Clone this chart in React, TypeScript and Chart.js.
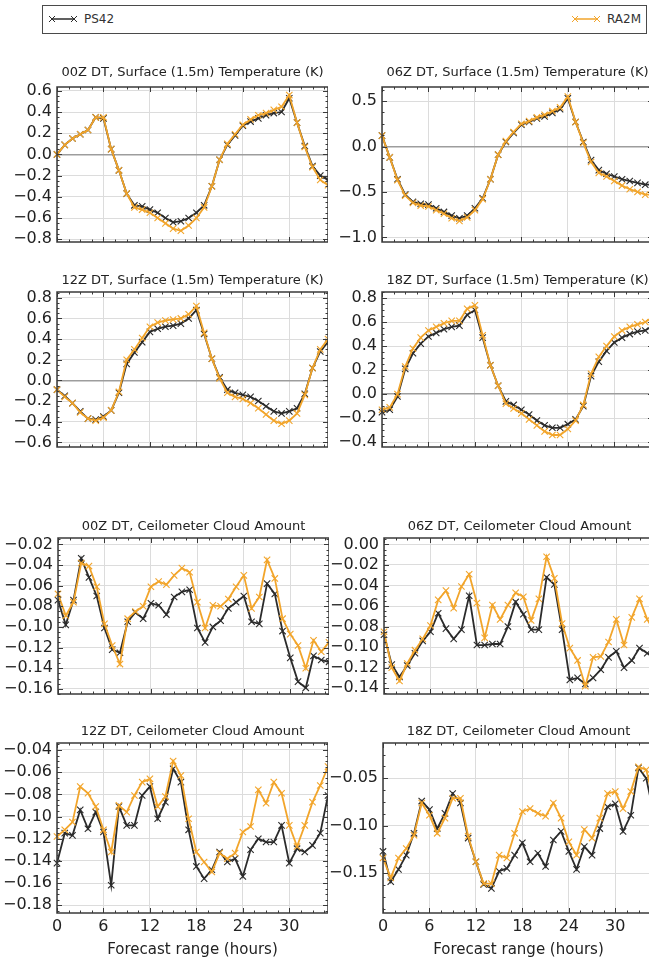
import React, { useEffect, useRef } from 'react';
import { Chart, registerables } from 'chart.js';

Chart.register(...registerables);

// ---------------------------------------------------------------------------
// Data: forecast hour vs. mean difference (PS42 and RA2M configurations)
// ---------------------------------------------------------------------------
const HOURS = [0, 1, 2, 3, 4, 5, 6, 7, 8, 9, 10, 11, 12, 13, 14, 15, 16, 17, 18, 19, 20, 21, 22, 23, 24, 25, 26, 27, 28, 29, 30, 31, 32, 33, 34, 35];
const X_TICKS = [0, 6, 12, 18, 24, 30];

// Surface (1.5m) temperature (K)
const PS42_T00 = [0.0, 0.09, 0.15, 0.19, 0.23, 0.35, 0.34, 0.05, -0.15, -0.37, -0.48, -0.49, -0.52, -0.55, -0.6, -0.64, -0.63, -0.6, -0.55, -0.48, -0.3, -0.05, 0.09, 0.18, 0.27, 0.31, 0.34, 0.37, 0.39, 0.4, 0.53, 0.3, 0.08, -0.11, -0.2, -0.24];
const RA2M_T00 = [0.0, 0.09, 0.15, 0.19, 0.23, 0.35, 0.35, 0.05, -0.15, -0.37, -0.5, -0.52, -0.55, -0.6, -0.65, -0.7, -0.72, -0.67, -0.6, -0.5, -0.3, -0.05, 0.1, 0.19, 0.28, 0.33, 0.37, 0.39, 0.42, 0.45, 0.56, 0.3, 0.07, -0.12, -0.24, -0.29];

const PS42_T06 = [0.12, -0.12, -0.36, -0.53, -0.61, -0.63, -0.64, -0.68, -0.72, -0.76, -0.79, -0.76, -0.68, -0.57, -0.36, -0.09, 0.05, 0.15, 0.24, 0.27, 0.31, 0.33, 0.37, 0.41, 0.53, 0.27, 0.05, -0.15, -0.26, -0.3, -0.33, -0.36, -0.38, -0.4, -0.42, -0.42];
const RA2M_T06 = [0.12, -0.12, -0.37, -0.54, -0.62, -0.65, -0.66, -0.7, -0.74, -0.79, -0.82, -0.78, -0.7, -0.58, -0.36, -0.09, 0.06, 0.16, 0.25, 0.28, 0.32, 0.35, 0.39, 0.43, 0.55, 0.27, 0.04, -0.17, -0.29, -0.33, -0.38, -0.43, -0.47, -0.5, -0.53, -0.53];

const PS42_T12 = [-0.09, -0.15, -0.22, -0.3, -0.37, -0.38, -0.35, -0.29, -0.12, 0.16, 0.27, 0.37, 0.47, 0.5, 0.52, 0.53, 0.55, 0.6, 0.68, 0.45, 0.21, 0.03, -0.09, -0.12, -0.14, -0.16, -0.2, -0.25, -0.3, -0.32, -0.3, -0.27, -0.13, 0.12, 0.28, 0.37];
const RA2M_T12 = [-0.09, -0.16, -0.22, -0.31, -0.37, -0.39, -0.36, -0.29, -0.11, 0.2, 0.3, 0.41, 0.52, 0.56, 0.58, 0.59, 0.6, 0.64, 0.72, 0.46, 0.21, 0.02, -0.12, -0.16, -0.18, -0.22, -0.27, -0.33, -0.39, -0.42, -0.39, -0.32, -0.14, 0.12, 0.3, 0.4];

const PS42_T18 = [-0.15, -0.13, -0.02, 0.21, 0.34, 0.42, 0.48, 0.51, 0.54, 0.56, 0.57, 0.66, 0.7, 0.47, 0.24, 0.07, -0.06, -0.09, -0.13, -0.17, -0.22, -0.26, -0.28, -0.28, -0.25, -0.21, -0.1, 0.15, 0.27, 0.36, 0.43, 0.47, 0.5, 0.52, 0.53, 0.57];
const RA2M_T18 = [-0.13, -0.11, 0.0, 0.23, 0.38, 0.47, 0.53, 0.56, 0.59, 0.61, 0.61, 0.71, 0.74, 0.49, 0.24, 0.07, -0.08, -0.12, -0.16, -0.21, -0.26, -0.31, -0.34, -0.34, -0.29, -0.22, -0.09, 0.17, 0.31, 0.4, 0.48, 0.53, 0.56, 0.58, 0.6, 0.64];

// Ceilometer cloud amount
const PS42_C00 = [-0.074, -0.098, -0.074, -0.0335, -0.052, -0.07, -0.101, -0.122, -0.125, -0.095, -0.086, -0.092, -0.077, -0.079, -0.088, -0.071, -0.066, -0.064, -0.101, -0.115, -0.1, -0.094, -0.082, -0.076, -0.07, -0.095, -0.097, -0.058, -0.068, -0.104, -0.13, -0.153, -0.159, -0.128, -0.132, -0.134];
const RA2M_C00 = [-0.068, -0.089, -0.076, -0.038, -0.041, -0.061, -0.097, -0.118, -0.136, -0.092, -0.085, -0.08, -0.061, -0.056, -0.059, -0.05, -0.043, -0.047, -0.076, -0.101, -0.079, -0.08, -0.073, -0.061, -0.05, -0.082, -0.071, -0.035, -0.053, -0.092, -0.107, -0.118, -0.14, -0.113, -0.124, -0.115];

const PS42_C06 = [-0.088, -0.117, -0.129, -0.118, -0.106, -0.094, -0.085, -0.067, -0.082, -0.092, -0.083, -0.05, -0.098, -0.098, -0.097, -0.097, -0.08, -0.056, -0.068, -0.083, -0.083, -0.032, -0.039, -0.083, -0.132, -0.13, -0.136, -0.13, -0.122, -0.11, -0.104, -0.12, -0.113, -0.101, -0.106, -0.11];
const RA2M_C06 = [-0.085, -0.12, -0.133, -0.116, -0.103, -0.092, -0.079, -0.054, -0.045, -0.062, -0.041, -0.029, -0.057, -0.091, -0.059, -0.073, -0.059, -0.047, -0.051, -0.074, -0.053, -0.012, -0.033, -0.077, -0.101, -0.113, -0.138, -0.11, -0.109, -0.095, -0.073, -0.098, -0.071, -0.053, -0.073, -0.086];

const PS42_C12 = [-0.142, -0.115, -0.117, -0.094, -0.111, -0.096, -0.114, -0.162, -0.091, -0.108, -0.108, -0.081, -0.073, -0.102, -0.087, -0.057, -0.069, -0.112, -0.145, -0.156, -0.148, -0.132, -0.141, -0.138, -0.154, -0.13, -0.12, -0.123, -0.123, -0.108, -0.142, -0.129, -0.132, -0.126, -0.115, -0.081];
const RA2M_C12 = [-0.118, -0.112, -0.105, -0.073, -0.079, -0.091, -0.112, -0.132, -0.09, -0.096, -0.081, -0.069, -0.066, -0.091, -0.082, -0.05, -0.063, -0.102, -0.132, -0.141, -0.15, -0.133, -0.138, -0.133, -0.114, -0.109, -0.076, -0.088, -0.069, -0.079, -0.108, -0.127, -0.108, -0.087, -0.072, -0.055];

const PS42_C18 = [-0.127, -0.159, -0.146, -0.131, -0.108, -0.074, -0.083, -0.103, -0.087, -0.066, -0.076, -0.113, -0.138, -0.162, -0.166, -0.148, -0.145, -0.131, -0.118, -0.138, -0.129, -0.143, -0.115, -0.106, -0.127, -0.146, -0.122, -0.131, -0.103, -0.08, -0.077, -0.106, -0.089, -0.039, -0.05, -0.089];
const RA2M_C18 = [-0.134, -0.155, -0.134, -0.124, -0.11, -0.076, -0.089, -0.108, -0.092, -0.071, -0.071, -0.111, -0.138, -0.161, -0.161, -0.131, -0.134, -0.108, -0.085, -0.082, -0.087, -0.09, -0.076, -0.092, -0.117, -0.131, -0.104, -0.113, -0.092, -0.066, -0.064, -0.082, -0.064, -0.038, -0.041, -0.075];

// Y tick values for each panel
const YT_T00 = [-0.8, -0.6, -0.4, -0.2, 0, 0.2, 0.4, 0.6];
const YT_T06 = [-1.0, -0.5, 0, 0.5];
const YT_T12 = [-0.6, -0.4, -0.2, 0, 0.2, 0.4, 0.6, 0.8];
const YT_T18 = [-0.4, -0.2, 0, 0.2, 0.4, 0.6, 0.8];
const YT_C00 = [-0.16, -0.14, -0.12, -0.1, -0.08, -0.06, -0.04, -0.02];
const YT_C06 = [-0.14, -0.12, -0.1, -0.08, -0.06, -0.04, -0.02, 0];
const YT_C12 = [-0.18, -0.16, -0.14, -0.12, -0.1, -0.08, -0.06, -0.04];
const YT_C18 = [-0.15, -0.1, -0.05];

// ---------------------------------------------------------------------------
// Styling
// ---------------------------------------------------------------------------
const FONT = "'DejaVu Sans', 'Liberation Sans', sans-serif";
const INK = '#222222';
const GRID = '#dcdcdc';
const ZERO_LINE = '#9d9d9d';
const FRAME = '#3a3a3a';
const PS42_COLOR = '#2b2b2b';
const RA2M_COLOR = '#f2a52b';

const AXIS_W = 60; // room for y tick labels left of the plot
const PLOT_W = 271;
const TITLE_H = 30;
const X_AXIS_H = 50; // tick labels + axis title on the bottom row

type Panel = {
  title: string;
  left: number;
  top: number;
  height: number;
  gap: number;
  yMin: number;
  yMax: number;
  yTicks: number[];
  dec: number;
  zero: boolean;
  ps: number[];
  ra: number[];
  xLabels: boolean;
};

const TEMP = 'Surface (1.5m) Temperature (K)';
const CLOUD = 'Ceilometer Cloud Amount';

const PANELS: Panel[] = [
  { title: `00Z DT, ${TEMP}`, left: 57, top: 87, height: 168, gap: 14, yMin: -0.826, yMax: 0.636, yTicks: YT_T00, dec: 1, zero: true, ps: PS42_T00, ra: RA2M_T00, xLabels: false },
  { title: `06Z DT, ${TEMP}`, left: 382, top: 87, height: 168, gap: 14, yMin: -1.051, yMax: 0.655, yTicks: YT_T06, dec: 1, zero: true, ps: PS42_T06, ra: RA2M_T06, xLabels: false },
  { title: `12Z DT, ${TEMP}`, left: 57, top: 292, height: 168, gap: 11.5, yMin: -0.645, yMax: 0.856, yTicks: YT_T12, dec: 1, zero: true, ps: PS42_T12, ra: RA2M_T12, xLabels: false },
  { title: `18Z DT, ${TEMP}`, left: 382, top: 292, height: 168, gap: 11.5, yMin: -0.44, yMax: 0.85, yTicks: YT_T18, dec: 1, zero: true, ps: PS42_T18, ra: RA2M_T18, xLabels: false },
  { title: `00Z DT, ${CLOUD}`, left: 58, top: 538, height: 169, gap: 11.5, yMin: -0.165, yMax: -0.0138, yTicks: YT_C00, dec: 2, zero: false, ps: PS42_C00, ra: RA2M_C00, xLabels: false },
  { title: `06Z DT, ${CLOUD}`, left: 384, top: 538, height: 169, gap: 11.5, yMin: -0.1457, yMax: 0.0063, yTicks: YT_C06, dec: 2, zero: false, ps: PS42_C06, ra: RA2M_C06, xLabels: false },
  { title: `12Z DT, ${CLOUD}`, left: 57, top: 743, height: 170, gap: 11.5, yMin: -0.187, yMax: -0.0337, yTicks: YT_C12, dec: 2, zero: false, ps: PS42_C12, ra: RA2M_C12, xLabels: true },
  { title: `18Z DT, ${CLOUD}`, left: 383, top: 743, height: 170, gap: 11.5, yMin: -0.192, yMax: -0.0128, yTicks: YT_C18, dec: 2, zero: false, ps: PS42_C18, ra: RA2M_C18, xLabels: true },
];

const fmt = (v: number, dec: number) => {
  const s = Number(v).toFixed(dec);
  return s.startsWith('-') ? '\u2212' + s.slice(1) : s;
};

// Axes frame with inward major/minor ticks on all four sides
const framePlugin = {
  id: 'frame',
  afterDatasetsDraw(chart: any, _args: any, opts: any) {
    const { ctx, chartArea: a, scales } = chart;
    const xs = scales.x;
    const ys = scales.y;
    const seg = (x1: number, y1: number, x2: number, y2: number) => {
      ctx.beginPath();
      ctx.moveTo(x1, y1);
      ctx.lineTo(x2, y2);
      ctx.stroke();
    };
    ctx.save();
    ctx.strokeStyle = FRAME;
    ctx.lineWidth = 1;

    const xStep = opts.xStep / 4;
    for (let i = 0; ; i++) {
      const v = xs.min + i * xStep;
      if (v > xs.max + 1e-9) break;
      const len = i % 4 === 0 ? 5 : 2.5;
      const px = Math.round(xs.getPixelForValue(v)) + 0.5;
      seg(px, a.top, px, a.top + len);
      seg(px, a.bottom, px, a.bottom - len);
    }

    const yt: number[] = opts.yTicks;
    const yStep = (yt[1] - yt[0]) / 4;
    const drawY = (v: number, len: number) => {
      const py = Math.round(ys.getPixelForValue(v)) + 0.5;
      seg(a.left, py, a.left + len, py);
      seg(a.right, py, a.right - len, py);
    };
    for (let i = 1; ; i++) {
      const v = yt[0] - i * yStep;
      if (v < ys.min) break;
      drawY(v, i % 4 === 0 ? 5 : 2.5);
    }
    for (let i = 0; ; i++) {
      const v = yt[0] + i * yStep;
      if (v > ys.max + 1e-9) break;
      drawY(v, i % 4 === 0 ? 5 : 2.5);
    }

    ctx.lineWidth = 1.5;
    ctx.strokeRect(a.left, a.top, a.right - a.left, a.bottom - a.top);
    ctx.restore();
  },
};

function series(label: string, values: number[], color: string, order: number) {
  return {
    label,
    data: HOURS.map((h, i) => ({ x: h, y: values[i] })),
    borderColor: color,
    backgroundColor: color,
    borderWidth: 1.8,
    tension: 0,
    pointStyle: 'crossRot',
    pointRadius: 4.5,
    pointBorderWidth: 1.1,
    pointBorderColor: color,
    pointBackgroundColor: color,
    clip: 6,
    order,
  };
}

function PanelChart({ p }: { p: Panel }) {
  const ref = useRef<HTMLCanvasElement>(null);
  const xh = p.xLabels ? X_AXIS_H : 0;
  const width = AXIS_W + PLOT_W;
  const height = TITLE_H + p.height + xh;

  useEffect(() => {
    if (!ref.current) return;
    const isZero = (c: any) => p.zero && c.tick && Math.abs(c.tick.value) < 1e-9;
    const chart = new Chart(ref.current, {
      type: 'line',
      data: {
        datasets: [
          series('RA2M', p.ra, RA2M_COLOR, 0),
          series('PS42', p.ps, PS42_COLOR, 1),
        ],
      },
      options: {
        responsive: false,
        animation: false,
        events: [],
        layout: { padding: 0, autoPadding: false },
        plugins: {
          legend: { display: false },
          tooltip: { enabled: false },
          title: {
            display: true,
            text: p.title,
            fullSize: false,
            color: INK,
            font: { family: FONT, size: 13, weight: 'normal', lineHeight: '14px' },
            padding: { top: 23 - p.gap, bottom: p.gap - 7 },
          },
          frame: { xStep: 6, yTicks: p.yTicks },
        },
        scales: {
          x: {
            type: 'linear',
            min: 0,
            max: 35,
            afterBuildTicks: (s: any) => {
              s.ticks = X_TICKS.map((v) => ({ value: v }));
            },
            afterFit: (s: any) => {
              s.height = xh;
            },
            grid: { color: GRID, lineWidth: 1, drawTicks: false },
            border: { display: false },
            ticks: {
              display: p.xLabels,
              autoSkip: false,
              maxRotation: 0,
              padding: 4,
              color: INK,
              font: { family: FONT, size: 16 },
              callback: (v: any) => String(v),
            },
            title: {
              display: p.xLabels,
              text: 'Forecast range (hours)',
              color: INK,
              font: { family: FONT, size: 15 },
              padding: { top: 0, bottom: 4 },
            },
          },
          y: {
            type: 'linear',
            min: p.yMin,
            max: p.yMax,
            afterBuildTicks: (s: any) => {
              s.ticks = p.yTicks.map((v) => ({ value: v }));
            },
            afterFit: (s: any) => {
              s.width = AXIS_W;
            },
            grid: {
              color: (c: any) => (isZero(c) ? ZERO_LINE : GRID),
              lineWidth: (c: any) => (isZero(c) ? 1.5 : 1),
              drawTicks: false,
            },
            border: { display: false },
            ticks: {
              autoSkip: false,
              padding: 5,
              color: INK,
              font: { family: FONT, size: 16, lineHeight: 1 },
              callback: (v: any) => fmt(v, p.dec),
            },
          },
        },
      } as any,
      plugins: [framePlugin as any],
    });
    return () => chart.destroy();
  }, [p]);

  return (
    <canvas
      ref={ref}
      width={width}
      height={height}
      style={{
        position: 'absolute',
        left: p.left - AXIS_W,
        top: p.top - TITLE_H,
        width,
        height,
      }}
    />
  );
}

function LegendMark({ color }: { color: string }) {
  const cross = (cx: number) => (
    <g stroke={color} strokeWidth={1}>
      <line x1={cx - 3} y1={3} x2={cx + 3} y2={9} />
      <line x1={cx - 3} y1={9} x2={cx + 3} y2={3} />
    </g>
  );
  return (
    <svg width={30} height={12} style={{ display: 'block' }}>
      <line x1={4} y1={6} x2={26} y2={6} stroke={color} strokeWidth={1.5} />
      {cross(4)}
      {cross(26)}
    </svg>
  );
}

function Legend() {
  const text = { position: 'absolute' as const, top: 6, lineHeight: '14px', fontSize: 12, color: '#333' };
  return (
    <div
      style={{
        position: 'absolute',
        left: 42,
        top: 5,
        width: 605,
        height: 29,
        boxSizing: 'border-box',
        border: '1.5px solid #4a4a4a',
        background: '#fff',
        fontFamily: FONT,
      }}
    >
      <div style={{ position: 'absolute', left: 5, top: 7 }}>
        <LegendMark color={PS42_COLOR} />
      </div>
      <span style={{ ...text, left: 41 }}>PS42</span>
      <div style={{ position: 'absolute', left: 528, top: 7 }}>
        <LegendMark color={RA2M_COLOR} />
      </div>
      <span style={{ ...text, right: 5 }}>RA2M</span>
    </div>
  );
}

export default function App() {
  return (
    <div
      style={{
        position: 'fixed',
        left: 0,
        top: 0,
        width: 649,
        height: 961,
        overflow: 'hidden',
        background: '#fff',
      }}
    >
      <Legend />
      {PANELS.map((p) => (
        <PanelChart key={p.title} p={p} />
      ))}
    </div>
  );
}
